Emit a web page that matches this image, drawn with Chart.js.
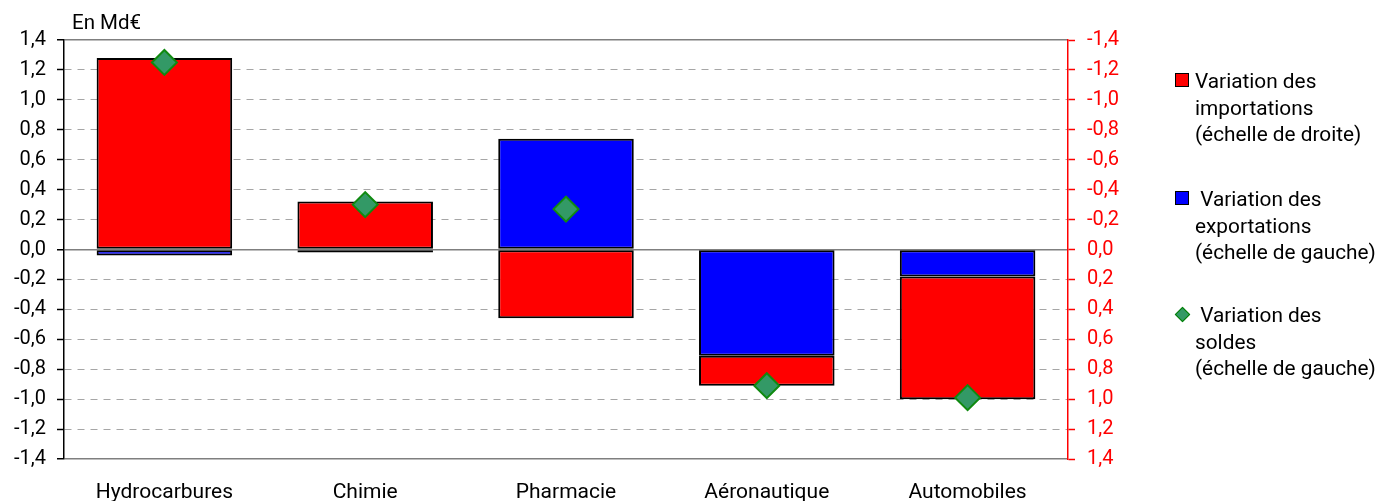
<!DOCTYPE html>
<html>
<head>
<meta charset="utf-8">
<script src="https://cdn.jsdelivr.net/npm/chart.js@4/dist/chart.umd.min.js"></script>
<style>
  html, body { margin: 0; padding: 0; background: #fff; overflow: hidden; width: 1381px; height: 501px; }
  #wrap { position: relative; width: 1381px; height: 501px; overflow: hidden; }
  canvas { position: absolute; left: 0; top: 0; }
  .txt { position: absolute; font-family: Roboto, sans-serif; color: #000; white-space: pre; }
  #unit { left: 72px; top: 9px; font-size: 20.5px; line-height: 26px; }
  .leg { font-size: 20.8px; line-height: 26.5px; left: 1195px; }
  .sq { position: absolute; width: 12px; height: 12px; border: 1.5px solid #000; }
  .dia { position: absolute; width: 9px; height: 9px; background: #339966; border: 1.5px solid #008000; transform: rotate(45deg); }
</style>
</head>
<body>
<div id="wrap">
  <canvas id="c" width="1381" height="530"></canvas>
  <div id="unit" class="txt">En Md€</div>
  <div class="sq" style="left:1175px; top:73px; background:#ff0000;"></div>
  <div class="txt leg" style="top:68px;">Variation des
importations
(échelle de droite)</div>
  <div class="sq" style="left:1175px; top:191px; background:#0000ff;"></div>
  <div class="txt leg" style="top:186px;"> Variation des
exportations
(échelle de gauche)</div>
  <div class="dia" style="left:1177px; top:309px;"></div>
  <div class="txt leg" style="top:302px;"> Variation des
soldes
(échelle de gauche)</div>
</div>
<script>
const categories = ['Hydrocarbures', 'Chimie', 'Pharmacie', 'Aéronautique', 'Automobiles'];
// Variation des exportations (échelle de gauche), Md€
const exportsVar = [-0.04, -0.02, 0.74, -0.71, -0.18];
// Variation des importations (échelle de droite, inversée), Md€
const importsVar = [-1.28, -0.32, 0.46, 0.20, 0.82];
// Variation des soldes (échelle de gauche), Md€
const balanceVar = [1.25, 0.30, 0.27, -0.91, -0.99];
const axisMin = -1.4, axisMax = 1.4, axisStep = 0.2;

const fmt = v => (Math.abs(v) < 1e-9 ? 0 : v).toFixed(1).replace('.', ',');
const TICKFONT = { family: 'Roboto', size: 20 };
const CATFONT = { family: 'Roboto', size: 21 };
const isEdge = v => Math.abs(v) < 1e-9 || Math.abs(Math.abs(v) - 1.4) < 1e-9;

new Chart(document.getElementById('c'), {
  data: {
    labels: categories,
    datasets: [
      {
        type: 'scatter',
        label: 'Variation des soldes',
        data: balanceVar.map((v, i) => ({ x: categories[i], y: v })),
        yAxisID: 'y',
        pointStyle: 'rectRot',
        pointRadius: 12.5,
        backgroundColor: '#339966',
        borderColor: '#108a10',
        borderWidth: 2,
        showLine: false,
        order: 0
      },
      {
        type: 'bar',
        label: 'Variation des exportations',
        data: exportsVar,
        yAxisID: 'y',
        backgroundColor: '#0000ff',
        borderColor: '#000',
        borderWidth: 2,
        borderSkipped: false,
        stack: 's',
        order: 1
      },
      {
        type: 'bar',
        label: 'Variation des importations',
        // right axis is the left axis reversed, so a value v on the right scale sits at -v on the left scale
        data: importsVar.map(v => -v),
        yAxisID: 'y',
        backgroundColor: '#ff0000',
        borderColor: '#000',
        borderWidth: 2,
        borderSkipped: false,
        stack: 's',
        order: 2
      }
    ]
  },
  options: {
    responsive: false,
    devicePixelRatio: 1,
    animation: false,
    layout: { padding: { left: 0, top: 40, right: 253, bottom: 0 } },
    plugins: { legend: { display: false }, tooltip: { enabled: false } },
    datasets: { bar: { categoryPercentage: 1, barPercentage: 0.675 } },
    scales: {
      x: {
        type: 'category',
        stacked: true,
        grid: { display: false, drawTicks: false },
        border: { display: false },
        ticks: { color: '#000', font: CATFONT, padding: 21, maxRotation: 0 },
        afterFit: s => { s.height = 71; }
      },
      y: {
        position: 'left',
        stacked: true,
        min: axisMin, max: axisMax,
        ticks: { stepSize: axisStep, color: '#000', font: TICKFONT, padding: 11, callback: v => fmt(v) },
        grid: {
          color: c => isEdge(c.tick ? c.tick.value : 1) ? '#7f7f7f' : '#a6a6a6',
          lineWidth: c => isEdge(c.tick ? c.tick.value : 1) ? 1.5 : 1,
          tickColor: '#000', tickLength: 7, tickWidth: 1.5
        },
        border: { display: true, color: '#000', width: 1.5,
          dash: c => (c.tick && !isEdge(c.tick.value)) ? [7, 6] : [] },
        afterFit: s => { s.width = 64; }
      },
      y2: {
        position: 'right',
        reverse: true,
        min: axisMin, max: axisMax,
        ticks: { stepSize: axisStep, color: '#ff0000', font: TICKFONT, padding: 12, callback: v => fmt(v) },
        grid: { drawOnChartArea: false, tickColor: '#ff0000', tickLength: 7, tickWidth: 1.5 },
        border: { display: true, color: '#ff0000', width: 1.5 },
        afterFit: s => { s.width = 60; }
      }
    }
  }
});
</script>
</body>
</html>
